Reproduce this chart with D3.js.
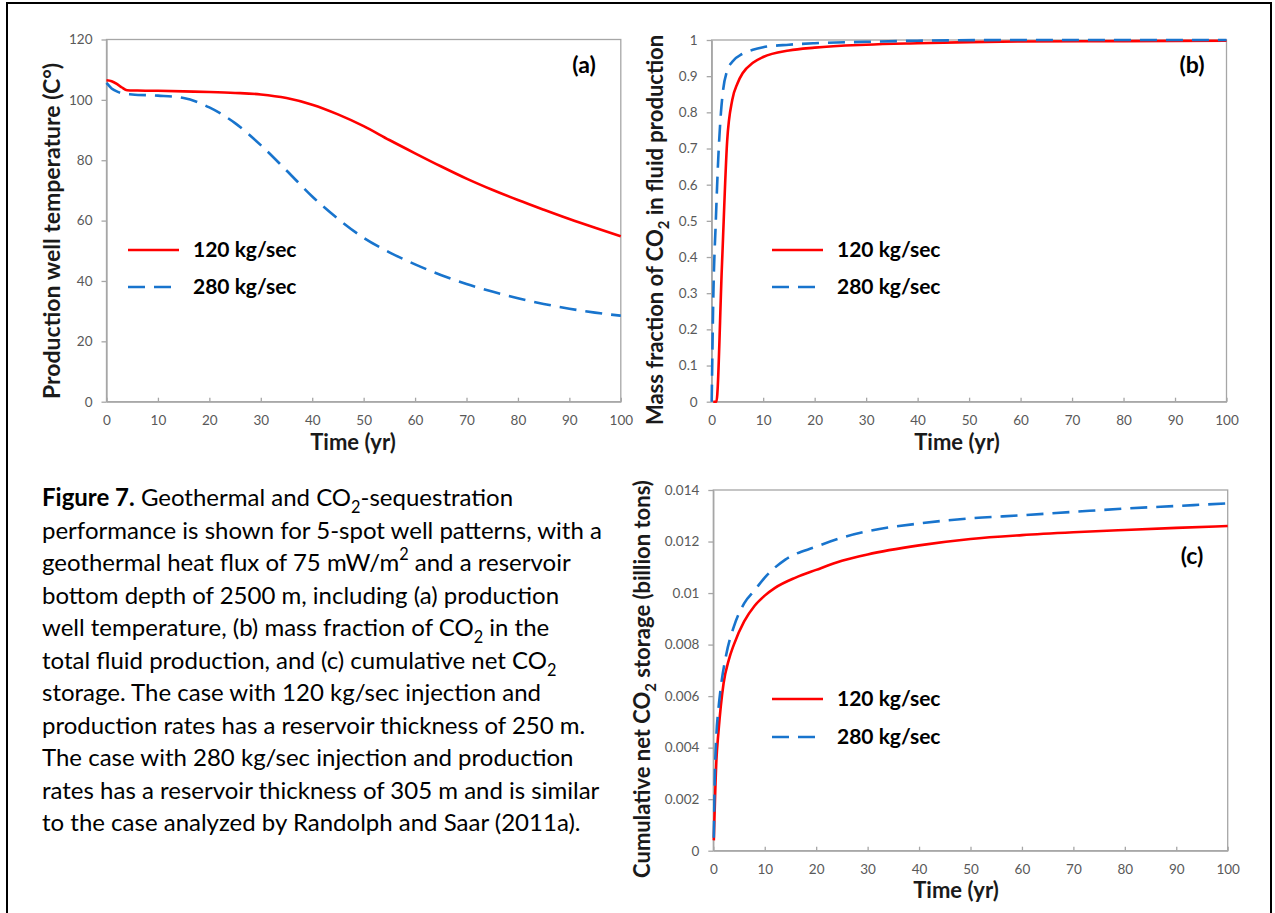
<!DOCTYPE html>
<html lang="en">
<head>
<meta charset="UTF-8">
<title>Figure 7</title>
<style>
  body { margin: 0; background: #fff; }
  svg text { font-family: Lato, "Open Sans", sans-serif; }
  .tick text { fill: #595959; font-size: 13.5px; }
  .domain, .tick line { stroke: #a6a6a6; stroke-width: 1.3px; }
  .ttl { font-weight: bold; fill: #1a1a1a; font-size: 22px; }
  .leg { font-weight: bold; fill: #000; font-size: 21px; }
  .plab { font-weight: bold; fill: #000; font-size: 23px; }
  .cap { font-size: 24px; fill: #000; }
  .series { fill: none; stroke-width: 2.6px; }
</style>
</head>
<body>
<svg id="fig" width="1275" height="913"></svg>
<script src="https://d3js.org/d3.v7.min.js"></script>
<script>
// series labels
const rateLabels = ["120 kg/sec", "280 kg/sec"];

// x ticks (years), shared by all panels
const yearTicks = [0, 10, 20, 30, 40, 50, 60, 70, 80, 90, 100];

// (a) production well temperature, [year, degC]
const tempRed = [[0,106.5],[1,106.2],[2,105.3],[3,104.1],[4,103.2],[6,103.1],[10,103.0],[15,102.8],[20,102.6],[25,102.3],[30,101.8],[35,100.6],[40,98.4],[45,95.2],[50,91.3],[55,86.7],[60,82.3],[65,78],[70,73.9],[75,70.2],[80,66.8],[85,63.6],[90,60.5],[95,57.6],[100,54.8]];
const tempBlue = [[0,105.6],[1,103.8],[2,102.8],[3,102.2],[5,101.8],[10,101.4],[15,100.6],[20,97.5],[25,92.3],[30,85],[35,76.6],[40,68],[45,60.6],[50,54.3],[55,49.5],[60,45.5],[65,42],[70,39],[75,36.5],[80,34.3],[85,32.4],[90,30.8],[95,29.5],[100,28.5]];
const tempTicks = [0, 20, 40, 60, 80, 100, 120];

// (b) mass fraction of CO2 in fluid production
const fracRed = [[0.3,0],[0.9,0],[2,0.38],[3,0.72],[4,0.835],[5,0.88],[6,0.908],[8,0.937],[10,0.953],[15,0.971],[20,0.979],[30,0.987],[40,0.991],[50,0.994],[60,0.996],[80,0.997],[100,0.998]];
const fracBlue = [[0,0],[0.3,0.28],[0.8,0.5],[1.3,0.68],[1.8,0.8],[2.2,0.86],[3,0.915],[4,0.94],[6,0.962],[8,0.973],[10,0.98],[15,0.987],[20,0.991],[30,0.995],[40,0.998],[60,1],[100,1]];
const fracTicks = [0, 0.1, 0.2, 0.3, 0.4, 0.5, 0.6, 0.7, 0.8, 0.9, 1];
const fracTickLabels = ["0", "0.1", "0.2", "0.3", "0.4", "0.5", "0.6", "0.7", "0.8", "0.9", "1"];

// (c) cumulative net CO2 storage (billion tons)
const storeRed = [[0.1,0.0004],[0.6,0.0035],[1,0.0046],[2,0.0065],[3,0.0074],[4,0.008],[6,0.0089],[8,0.0095],[10,0.0099],[12,0.0102],[16,0.0106],[20,0.0109],[25,0.01125],[30,0.0115],[40,0.01185],[50,0.0121],[60,0.01225],[70,0.01236],[80,0.01245],[90,0.01253],[100,0.0126]];
const storeBlue = [[0.1,0.0005],[0.3,0.0029],[0.6,0.0045],[1,0.0055],[1.5,0.0064],[2.5,0.0076],[4,0.0087],[6,0.0096],[8,0.0101],[10,0.0106],[14,0.0113],[20,0.0118],[25,0.01215],[30,0.0124],[40,0.0127],[50,0.0129],[60,0.01302],[70,0.01315],[80,0.01328],[90,0.01338],[100,0.01348]];
const storeTicks = [0, 0.002, 0.004, 0.006, 0.008, 0.01, 0.012, 0.014];
const storeTickLabels = ["0", "0.002", "0.004", "0.006", "0.008", "0.01", "0.012", "0.014"];

// caption: segments [text, style] with style "" / "b" bold / "sub" / "sup"
const captionLines = [
  [["Figure 7.", "b"], [" Geothermal and CO", ""], ["2", "sub"], ["-sequestration", ""]],
  [["performance is shown for 5-spot well patterns, with a", ""]],
  [["geothermal heat flux of 75 mW/m", ""], ["2", "sup"], [" and a reservoir", ""]],
  [["bottom depth of 2500 m, including (a) production", ""]],
  [["well temperature, (b) mass fraction of CO", ""], ["2", "sub"], [" in the", ""]],
  [["total fluid production, and (c) cumulative net CO", ""], ["2", "sub"]],
  [["storage. The case with 120 kg/sec injection and", ""]],
  [["production rates has a reservoir thickness of 250 m.", ""]],
  [["The case with 280 kg/sec injection and production", ""]],
  [["rates has a reservoir thickness of 305 m and is similar", ""]],
  [["to the case analyzed by Randolph and Saar (2011a).", ""]]
];

const RED = "#ff0000", BLUE = "#1874cd";
const svg = d3.select("#fig");

// outer frame
svg.append("rect").attr("x", 7).attr("y", 3).attr("width", 1264).attr("height", 1000)
  .attr("fill", "none").attr("stroke", "#000").attr("stroke-width", 2);

// writes segments into a text element, handling sub/superscripts
function fillText(sel, segs) {
  let shift = 0;
  segs.forEach(([t, s]) => {
    const ts = sel.append("tspan").text(t);
    let want = 0;
    if (s === "sub") { want = 0.3; ts.style("font-size", "0.68em"); }
    if (s === "sup") { want = -0.45; ts.style("font-size", "0.68em"); }
    if (s === "b") ts.style("font-weight", "bold");
    const size = (s === "sub" || s === "sup") ? 0.68 : 1;
    const d = want - shift;
    if (d !== 0) ts.attr("dy", (d / size) + "em");
    shift = want;
  });
}

function drawPanel(p) {
  const x = d3.scaleLinear().domain([0, 100]).range([p.left, p.right]);
  const y = d3.scaleLinear().domain([0, p.ymax]).range([p.bottom, p.top]);

  svg.append("rect")
    .attr("x", p.left).attr("y", p.top)
    .attr("width", p.right - p.left).attr("height", p.bottom - p.top)
    .attr("fill", "none").attr("stroke", "#a6a6a6").attr("stroke-width", 1.3);

  svg.append("g")
    .attr("transform", "translate(0," + p.bottom + ")")
    .call(d3.axisBottom(x).tickValues(yearTicks).tickSizeInner(-4).tickSizeOuter(0).tickPadding(14));

  svg.append("g")
    .attr("transform", "translate(" + p.left + ",0)")
    .call(d3.axisLeft(y).tickValues(p.ticks).tickSizeInner(5).tickSizeOuter(0).tickPadding(9)
      .tickFormat((d, i) => p.tickLabels ? p.tickLabels[i] : d));

  const line = d3.line()
    .x(d => x(d[0]))
    .y(d => y(d[1]))
    .curve(d3.curveMonotoneX);

  svg.append("path").datum(p.red).attr("class", "series").attr("stroke", RED).attr("d", line);
  svg.append("path").datum(p.blue).attr("class", "series").attr("stroke", BLUE)
    .attr("stroke-dasharray", "17,9").attr("d", line);

  // x title
  svg.append("text").attr("class", "ttl").attr("text-anchor", "middle")
    .attr("x", p.xTitle[0]).attr("y", p.xTitle[1]).attr("dy", "0.35em").text("Time (yr)");

  // y title (rotated)
  const yt = svg.append("text").attr("class", "ttl").attr("text-anchor", "middle")
    .attr("transform", "translate(" + p.yTitle[0] + "," + p.yTitle[1] + ") rotate(-90)")
    .attr("dy", "0.35em");
  if (p.yTitleSize) yt.style("font-size", p.yTitleSize + "px");
  fillText(yt, p.yTitleSegs);

  // panel label
  svg.append("text").attr("class", "plab").attr("text-anchor", "middle")
    .attr("x", p.label[1]).attr("y", p.label[2]).attr("dy", "0.35em").text(p.label[0]);

  // legend
  const lg = [{ c: RED, dash: null, t: rateLabels[0] }, { c: BLUE, dash: "17,9", t: rateLabels[1] }];
  lg.forEach((d, i) => {
    const ly = p.legend[1] + i * p.legend[2];
    svg.append("line").attr("x1", p.legend[0]).attr("x2", p.legend[0] + 51)
      .attr("y1", ly).attr("y2", ly).attr("stroke", d.c).attr("stroke-width", 2.6)
      .attr("stroke-dasharray", d.dash);
    svg.append("text").attr("class", "leg").attr("x", p.legend[0] + 65).attr("y", ly)
      .attr("dy", "0.35em").text(d.t);
  });
}

drawPanel({
  left: 106.5, right: 620.8, top: 39.5, bottom: 401.7, ymax: 120,
  ticks: tempTicks, red: tempRed, blue: tempBlue,
  xTitle: [353, 442], yTitle: [52, 231], yTitleSize: 23,
  yTitleSegs: [["Production well temperature (C°)", ""]],
  label: ["(a)", 584, 65], legend: [128, 250, 37]
});

drawPanel({
  left: 711.7, right: 1226.5, top: 40, bottom: 401.7, ymax: 1,
  ticks: fracTicks, tickLabels: fracTickLabels, red: fracRed, blue: fracBlue,
  xTitle: [957, 442], yTitle: [655, 230],
  yTitleSegs: [["Mass fraction of CO", ""], ["2", "sub"], [" in fluid production", ""]],
  label: ["(b)", 1192, 65], legend: [772, 250, 37]
});

drawPanel({
  left: 713.3, right: 1227.7, top: 490, bottom: 850.7, ymax: 0.014,
  ticks: storeTicks, tickLabels: storeTickLabels, red: storeRed, blue: storeBlue,
  xTitle: [956, 890], yTitle: [642, 679],
  yTitleSegs: [["Cumulative net CO", ""], ["2", "sub"], [" storage (billion tons)", ""]],
  label: ["(c)", 1192, 556], legend: [772, 699, 38]
});

// caption
captionLines.forEach((segs, i) => {
  const t = svg.append("text").attr("class", "cap").attr("x", 42).attr("y", 506 + i * 32.5);
  fillText(t, segs);
});
</script>
</body>
</html>
